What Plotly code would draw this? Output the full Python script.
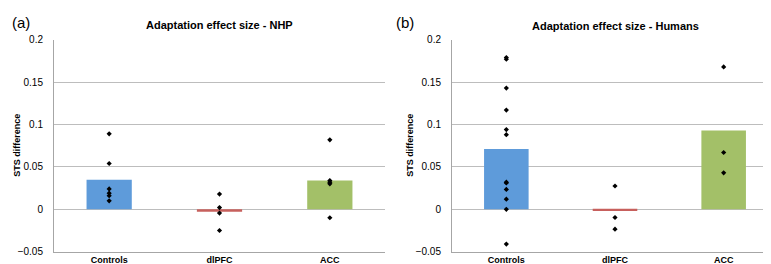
import plotly.graph_objects as go
from plotly.subplots import make_subplots

categories = ["Controls", "dlPFC", "ACC"]
colors = ["#5E9BDA", "#C7605D", "#A3C068"]

# Panel (a) NHP
nhp_bar = [0.035, -0.003, 0.034]
nhp_controls = [0.089, 0.054, 0.024, 0.019, 0.016, 0.010]
nhp_dlpfc = [0.018, 0.002, -0.0045, -0.025]
nhp_acc = [0.082, 0.034, 0.032, 0.030, -0.010]

# Panel (b) Humans
hum_bar = [0.071, -0.002, 0.093]
hum_controls = [0.179, 0.177, 0.143, 0.117, 0.094, 0.088, 0.032, 0.031, 0.0235, 0.012, 0.0, -0.041]
hum_dlpfc = [0.0275, -0.0097, -0.0235]
hum_acc = [0.168, 0.067, 0.043]

y_ticks = [-0.05, 0, 0.05, 0.1, 0.15, 0.2]
y_tick_text = ["\u22120.05", "0", "0.05", "0.1", "0.15", "0.2"]

fig = make_subplots(rows=1, cols=2)

FONT = "Liberation Sans, Arial, sans-serif"

def add_panel(col, bars, pts):
    fig.add_trace(go.Bar(x=categories, y=bars, marker_color=colors, marker_line_width=0,
                         width=0.41, showlegend=False), row=1, col=col)
    xs, ys = [], []
    for cat, vals in zip(categories, pts):
        xs += [cat] * len(vals)
        ys += vals
    fig.add_trace(go.Scatter(x=xs, y=ys, mode="markers",
                             marker=dict(symbol="diamond", size=4, color="black"),
                             showlegend=False), row=1, col=col)

add_panel(1, nhp_bar, [nhp_controls, nhp_dlpfc, nhp_acc])
add_panel(2, hum_bar, [hum_controls, hum_dlpfc, hum_acc])

ydom = [1 - 249 / 264, 1 - 27 / 264]
fig.update_layout(
    width=771, height=264, margin=dict(l=0, r=0, t=0, b=0),
    paper_bgcolor="white", plot_bgcolor="white",
    font=dict(family=FONT, color="black"),
    xaxis=dict(domain=[46 / 771, 377 / 771]),
    xaxis2=dict(domain=[444 / 771, 770 / 771]),
    yaxis=dict(domain=ydom),
    yaxis2=dict(domain=ydom),
)
for ax in ["xaxis", "xaxis2"]:
    fig.layout[ax].update(showline=True, linecolor="#A6A6A6", linewidth=1,
                          showgrid=False, ticks="", tickfont=dict(size=9, family=FONT),
                          ticklabelstandoff=0,
                          tickvals=categories,
                          ticktext=["<b>" + c + "</b>" for c in categories])
for ax in ["yaxis", "yaxis2"]:
    fig.layout[ax].update(range=[-0.05, 0.2], tickvals=y_ticks, ticktext=y_tick_text,
                          showline=True, linecolor="#A6A6A6", linewidth=1,
                          showgrid=True, gridcolor="#BDBDBD", gridwidth=1,
                          zeroline=True, zerolinecolor="#BDBDBD", zerolinewidth=1,
                          ticks="", ticklabelstandoff=8,
                          tickfont=dict(size=10, family=FONT))

ann = []
ann.append(dict(text="<b>Adaptation effect size - NHP</b>", x=211, y=12))
ann.append(dict(text="<b>Adaptation effect size - Humans</b>", x=607, y=13))
for a in ann:
    fig.add_annotation(text=a["text"], x=a["x"] / 771, y=1 - a["y"] / 264, xref="paper", yref="paper",
                       showarrow=False, xanchor="center", yanchor="middle",
                       font=dict(size=11, family=FONT))
fig.add_annotation(text="(a)", x=2 / 771, y=1 - 9 / 264, xref="paper", yref="paper", showarrow=False,
                   xanchor="left", yanchor="middle", font=dict(size=15, family="Liberation Sans, Arial"))
fig.add_annotation(text="(b)", x=386 / 771, y=1 - 9 / 264, xref="paper", yref="paper", showarrow=False,
                   xanchor="left", yanchor="middle", font=dict(size=15, family="Liberation Sans, Arial"))
for xp in [9, 402]:
    fig.add_annotation(text="<b>STS difference</b>", x=xp / 771, y=1 - 138 / 264, xref="paper", yref="paper",
                       showarrow=False, textangle=-90, xanchor="center", yanchor="middle",
                       font=dict(size=9, family=FONT))

fig.write_html("out.html")
